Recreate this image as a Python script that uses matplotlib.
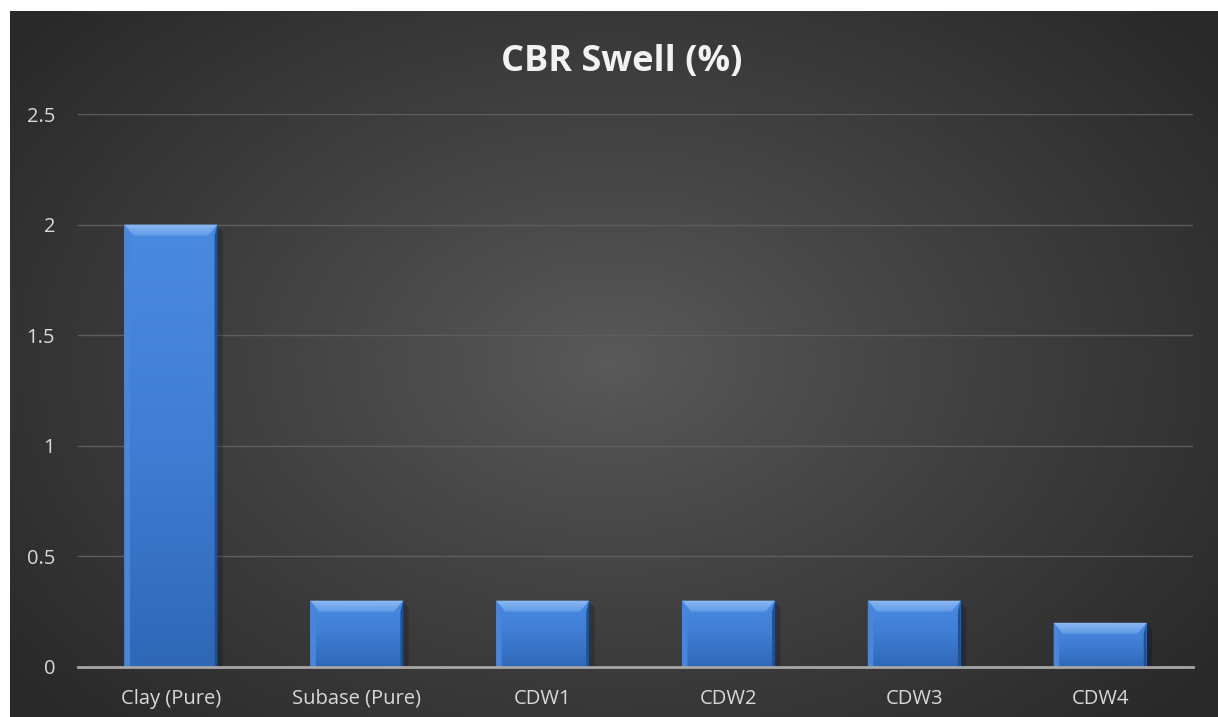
import numpy as np
import matplotlib.pyplot as plt
from matplotlib.patches import Polygon
from matplotlib.colors import LinearSegmentedColormap

# CBR swell results per mix
categories = ['Clay (Pure)', 'Subase (Pure)', 'CDW1', 'CDW2', 'CDW3', 'CDW4']
swell = [2.0, 0.3, 0.3, 0.3, 0.3, 0.2]
yticks = [0, 0.5, 1, 1.5, 2, 2.5]
ytick_labels = ['0', '0.5', '1', '1.5', '2', '2.5']

plt.rcParams['font.family'] = ['Open Sans', 'DejaVu Sans']

fig = plt.figure(figsize=(12.18, 7.17), dpi=100)
fig.patch.set_facecolor('white')

# dark radial background of the chart area
bg = fig.add_axes([10 / 1218, 0, 1 - 10 / 1218, 1 - 11 / 717])
bg.set_axis_off()
yy, xx = np.mgrid[0:706, 0:1208]
cx, cy = 600, 350
r = np.sqrt(((xx - cx) / 760.0) ** 2 + ((yy - cy) / 520.0) ** 2)
r = np.clip(r, 0, 1)
shade = 0x5a - (0x5a - 0x29) * r ** 0.9
img = np.dstack([shade, shade, shade]) / 255.0
bg.imshow(img, aspect='auto', extent=[0, 1, 0, 1], interpolation='bilinear')
bg.set_xlim(0, 1)
bg.set_ylim(0, 1)

ax = fig.add_axes([78 / 1218, 50 / 717, (1193 - 78) / 1218, (667 - 114) / 717])
ax.set_facecolor('none')

x = np.arange(len(categories))
bars = ax.bar(x, swell, width=0.5, color='#4281d6', edgecolor='none', zorder=3)

bar_cmap = LinearSegmentedColormap.from_list('bar', ['#2f67b6', '#3f7ed4', '#4a8ae0'])
grad = np.linspace(0, 1, 256).reshape(-1, 1)
top_cmap = LinearSegmentedColormap.from_list('top', ['#5f9ae6', '#8dbaf3'])
for b in bars:
    x0, w, h = b.get_x(), b.get_width(), b.get_height()
    # vertical shading inside the bar
    im = ax.imshow(grad, cmap=bar_cmap, aspect='auto', origin='lower',
                   extent=[x0, x0 + w, 0, h], zorder=3)
    im.set_clip_path(b)
    # bevel: lighter top edge, soft left edge and darker right edge
    dx = w * 0.1
    dy = 0.05
    top = Polygon([[x0, h], [x0 + w, h], [x0 + w - dx, h - dy], [x0 + dx, h - dy]],
                  closed=True, facecolor='none', edgecolor='none', zorder=4)
    ax.add_patch(top)
    tim = ax.imshow(grad, cmap=top_cmap, aspect='auto', origin='lower',
                    extent=[x0, x0 + w, h - dy, h], zorder=4)
    tim.set_clip_path(top)
    ax.add_patch(Polygon([[x0, h], [x0 + dx * 0.6, h - dy], [x0 + dx * 0.6, 0], [x0, 0]],
                         closed=True, facecolor='#4786da', edgecolor='none', zorder=4))
    ax.add_patch(Polygon([[x0 + w, h], [x0 + w - dx * 0.3, h - dy], [x0 + w - dx * 0.3, 0], [x0 + w, 0]],
                         closed=True, facecolor='#22508a', edgecolor='none', zorder=4))
    # soft shadow on the right
    ax.add_patch(Polygon([[x0 + w, h - 0.01], [x0 + w + 0.03, h - 0.03], [x0 + w + 0.03, 0], [x0 + w, 0]],
                         closed=True, facecolor='black', alpha=0.18, edgecolor='none', zorder=2))
ax.set_xlim(-0.5, len(categories) - 0.5)
ax.set_ylim(0, 2.5)

ax.set_yticks(yticks)
ax.set_yticklabels(ytick_labels)
ax.set_xticks(x)
ax.set_xticklabels(categories)
ax.yaxis.grid(True, color='#5e5e5e', linewidth=1.0, zorder=1)
ax.set_axisbelow(True)
ax.tick_params(axis='both', length=0, colors='#d9d9d9', labelsize=14.5)
ax.tick_params(axis='y', pad=16.5)
ax.tick_params(axis='x', pad=15.5)
for side in ['top', 'right', 'left']:
    ax.spines[side].set_visible(False)
ax.spines['bottom'].set_color('#a6a6a6')
ax.spines['bottom'].set_linewidth(2)
ax.spines['bottom'].set_zorder(5)

fig.text(622 / 1218, 1 - 62 / 717, 'CBR Swell (%)', ha='center', va='center',
         fontsize=26, fontweight='bold', color='#f2f2f2')

fig.savefig('out.png', dpi=100, facecolor=fig.get_facecolor())
